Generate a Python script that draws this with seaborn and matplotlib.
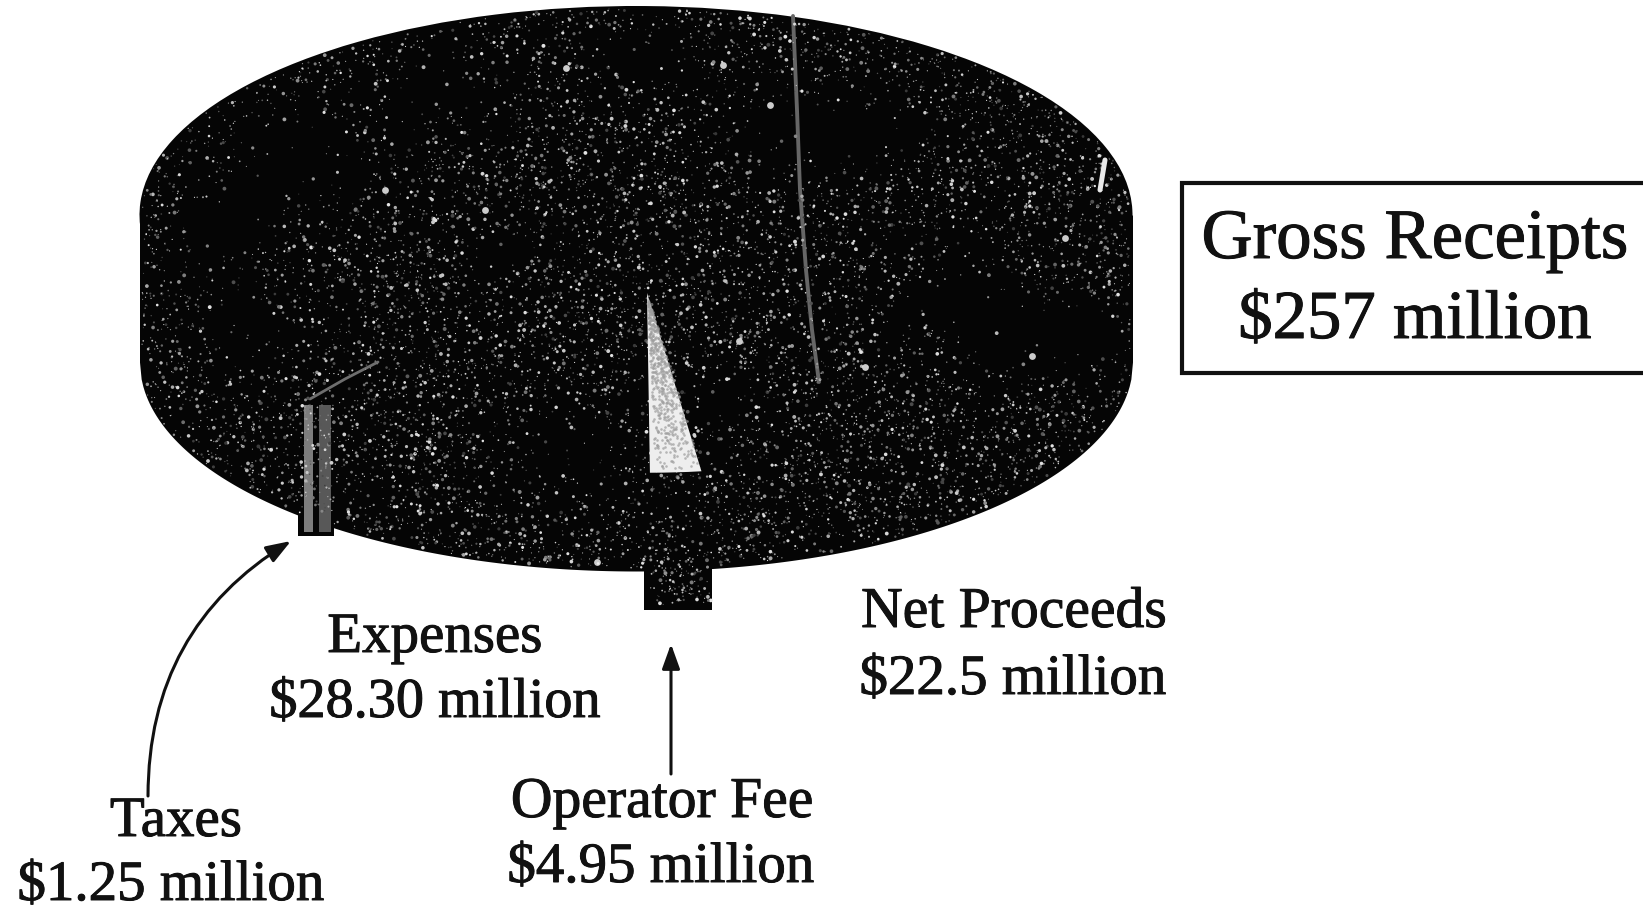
import numpy as np
import pandas as pd
import matplotlib
matplotlib.use("Agg")
import matplotlib.pyplot as plt
import matplotlib.patheffects as pe
from matplotlib.patches import Rectangle
import seaborn as sns

# Casino revenue split, in millions of dollars
gross_receipts = 257.0
slice_names = ["Taxes", "Expenses", "Operator Fee", "Net Proceeds"]
slice_values = [1.25, 28.30, 4.95, 22.5]
slice_value_labels = ["$1.25 million", "$28.30 million", "$4.95 million", "$22.5 million"]
gross_name = "Gross Receipts"
gross_value_label = "$257 million"

WIDTH, HEIGHT = 1643, 913
CX, CY, RX, RY = 636.0, 215.0, 496.5, 209.0     # top ellipse, in pixels
WALL = 147.0 / RY                                # cylinder height, in radii
FEE_WALL = 137.0 / RY
START_ANGLE = -131.0
INK = "#050505"


def ux(px):
    return (np.asarray(px, dtype=float) - CX) / RX


def uy(py):
    return (CY - np.asarray(py, dtype=float)) / RY


def grain(count, key):
    """Repeatable grain values in 0..1 for the print texture."""
    return (np.sin(np.arange(1, count + 1) * key) * 43758.5453) % 1


sns.set_theme(style="white")
plt.rcParams["font.family"] = ["Liberation Serif", "DejaVu Serif"]

fig = plt.figure(figsize=(WIDTH / 100, HEIGHT / 100), dpi=100, facecolor="white")
ax = fig.add_axes([0, 0, 1, 1])

# Pie body: side wall first, then the top face
rim_x = np.linspace(-1, 1, 600)
rim_y = np.sqrt(1 - rim_x ** 2)
ax.fill_between(rim_x, -WALL - rim_y, 0, color=INK, linewidth=0, zorder=1)

remainder = gross_receipts - sum(slice_values)
ax.pie(slice_values + [remainder], startangle=START_ANGLE, radius=1, colors=[INK],
       wedgeprops={"linewidth": 0, "zorder": 2})

# Slice angles follow from the values
degrees = np.array(slice_values) / gross_receipts * 360
edges = START_ANGLE + np.concatenate([[0], np.cumsum(degrees)])
tax_start, tax_end, fee_start, fee_end = edges[0], edges[1], edges[2], edges[3]

# Operator fee slice, pulled out towards the viewer
FEE_CENTER = (ux(647), uy(293))
FEE_RADIUS = 0.86
ax.pie([slice_values[2], gross_receipts - slice_values[2]], startangle=fee_start,
       center=FEE_CENTER, radius=FEE_RADIUS, colors=["#eeeeee", "none"],
       wedgeprops={"linewidth": 0, "zorder": 7})
fee_x = FEE_CENTER[0] + FEE_RADIUS * np.cos(np.radians([fee_start, fee_end]))
fee_x = fee_x + np.array([-0.012, 0.022])
fee_top = FEE_CENTER[1] - FEE_RADIUS
ax.fill_between(fee_x, fee_top - FEE_WALL, fee_top, color=INK, linewidth=0, zorder=3)

# Taxes slice: a thin sliver whose cut faces catch the light
tax_x = np.cos(np.radians(tax_start))
tax_left = tax_x - 0.012
for offset, width, tone in [(0.0, 0.018, "#7d7d7d"), (0.03, 0.024, "#585858")]:
    ax.add_patch(Rectangle((tax_left + offset, uy(532)), width, uy(405) - uy(532),
                           facecolor=tone, edgecolor="none", zorder=4))
ax.fill_between([tax_left - 0.012, tax_left + 0.06], uy(536), uy(505),
                color=INK, linewidth=0, zorder=3)
ax.plot(ux([310, 345, 378]), uy([399, 379, 362]), color="#6e6e6e", lw=2.0, zorder=4)

# Scan marks on the printed face
ax.plot(ux([793, 797, 800, 806, 812, 819]), uy([16, 110, 190, 270, 330, 382]),
        color="#666666", lw=2.8, zorder=4)
ax.plot(ux([1100, 1105]), uy([190, 160]), color="#e8e8e8", lw=3.6, zorder=8)

# Speckled print texture, thinned out in the dark patches
n_specks = 24000
speck_px = 130 + grain(n_specks, 12.9898) * 1010
speck_py = grain(n_specks, 78.233) * 640
sa = grain(n_specks, 37.719)
sb = grain(n_specks, 93.989)
sc = grain(n_specks, 51.137)

blob_x = np.array([300, 450, 250, 580, 650, 780, 960, 1040, 880, 230, 1090, 720, 500])
blob_y = np.array([150, 90, 330, 450, 60, 130, 300, 350, 130, 230, 330, 400, 250])
blob_r = np.array([70, 50, 45, 55, 45, 50, 60, 40, 45, 45, 30, 30, 30])
darkness = np.exp(-((speck_px[:, None] - blob_x) ** 2 + ((speck_py[:, None] - blob_y) * 1.4) ** 2)
                  / (2 * blob_r ** 2)).sum(axis=1)
keep = sa > 0.25 + 0.72 * np.clip(darkness, 0, 1)

speck_x, speck_y = ux(speck_px), uy(speck_py)
half = np.sqrt(np.clip(1 - speck_x ** 2, 0, None))
inside = (np.abs(speck_x) < 0.995) & (speck_y < half - 0.012) & (speck_y > -WALL - half + 0.012)
tab = (speck_px > 650) & (speck_px < 711) & (speck_py > 540) & (speck_py < 605)
selected = (inside | tab) & (keep | tab)

specks = pd.DataFrame({
    "x": speck_x[selected],
    "y": speck_y[selected],
    "size": sb[selected] ** 4,
    "tone": 0.22 + 0.68 * sc[selected],
})
sns.scatterplot(data=specks, x="x", y="y", size="size", sizes=(0.7, 8), hue="tone",
                palette="gray", hue_norm=(0, 1), linewidth=0, legend=False,
                ax=ax, zorder=6)

# A few larger glints in the print
glint_px = [597, 739, 566, 723, 865, 1032, 770, 485, 1065, 385]
glint_py = [562, 341, 68, 65, 367, 356, 105, 210, 238, 190]
ax.scatter(ux(glint_px), uy(glint_py), s=24, c="#f0f0f0", linewidths=0, alpha=0.85, zorder=6)

# Grey mottling on the white operator fee face
face_n = 900
face_u, face_v = grain(face_n, 17.31), grain(face_n, 63.77)
face_py = 300 + face_u ** 0.75 * 168
face_left = 647 + (face_py - 293) / 180 * 8
face_right = 647 + (face_py - 293) / 180 * 56
face_px = face_left + face_v * (face_right - face_left)
face_keep = grain(face_n, 29.41) > (face_py - 300) / 168 * 0.75
ax.scatter(ux(face_px[face_keep]), uy(face_py[face_keep]), s=3.5, c="#9e9e9e",
           alpha=0.7, linewidths=0, zorder=8)

ax.set_xlim(ux(0), ux(WIDTH))
ax.set_ylim(uy(HEIGHT), uy(0))
ax.set_aspect("auto")
ax.set_axis_off()

# Total box, running off the right edge
ax.add_patch(Rectangle((ux(1182), uy(373)), ux(WIDTH + 10) - ux(1182), uy(183) - uy(373),
                       facecolor="white", edgecolor="#111111", linewidth=3.0, zorder=9))


def label(px, py, text, size):
    fig.text(px / WIDTH, 1 - py / HEIGHT, text, ha="center", va="baseline",
             fontsize=size, color="#111111", zorder=10,
             path_effects=[pe.withStroke(linewidth=0.7, foreground="#111111")])


label(1415, 258, gross_name, 51)
label(1415, 338, gross_value_label, 49.5)

label(435, 652, slice_names[1], 41)
label(435, 717, slice_value_labels[1], 40.5)
label(1014, 627, slice_names[3], 41.5)
label(1013, 694, slice_value_labels[3], 41)
label(662, 817, slice_names[2], 41.5)
label(661, 882, slice_value_labels[2], 41)
label(176, 836, slice_names[0], 41)
label(171, 900, slice_value_labels[0], 41)

# Pointers to the two thin slices
arrow_head = dict(arrowstyle="-|>,head_length=1.25,head_width=0.45", color="#111111", lw=2.2,
                  shrinkA=0, shrinkB=0)
ax.annotate("", xy=(ux(291), uy(541)), xytext=(ux(148), uy(796)), zorder=9,
            arrowprops=dict(connectionstyle="arc3,rad=-0.28", **arrow_head))
ax.annotate("", xy=(ux(671), uy(644)), xytext=(ux(671), uy(774)), zorder=9,
            arrowprops=arrow_head)

fig.savefig("out.png", dpi=100, facecolor="white")
